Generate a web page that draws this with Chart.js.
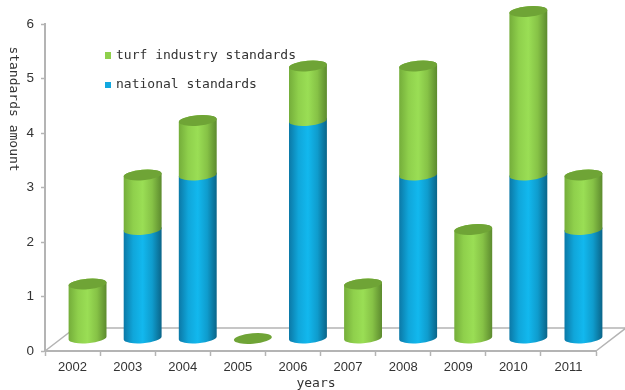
<!DOCTYPE html>
<html>
<head>
<meta charset="utf-8">
<style>
  html, body { margin: 0; padding: 0; background: #fff; overflow: hidden; }
  canvas { display: block; filter: blur(0.4px); }
</style>
<script src="https://cdn.jsdelivr.net/npm/chart.js@4"></script>
</head>
<body>
<canvas id="chart" width="625" height="390"></canvas>
<script>
const years = ['2002','2003','2004','2005','2006','2007','2008','2009','2010','2011'];
const nationalStandards = [0, 2, 3, 0, 4, 0, 3, 0, 3, 2];
const turfStandards = [1, 1, 1, 0, 1, 1, 2, 2, 3, 1];
const yTicks = [0, 1, 2, 3, 4, 5, 6];

const AXIS = '#b4b4b4';
const TEXT = '#333';
const MONO = '13px "DejaVu Sans Mono", monospace';
const DEPTH_X = 30, DEPTH_Y = 23;
const TILT = -0.08, RY = 5.2;

const sideColors = {
  green: ['#74ad3a', '#8fd04c', '#9ade55', '#86c246', '#5c8a2e'],
  blue: ['#0b78a6', '#10a6da', '#12b8ee', '#0f9ccd', '#0a6488']
};

function cylinder(ctx, cx, top, bottom, rx, stops){
  const g = ctx.createLinearGradient(cx - rx, 0, cx + rx, 0);
  stops.forEach((c, i)=> g.addColorStop(i / (stops.length - 1), c));
  ctx.beginPath();
  ctx.ellipse(cx, bottom, rx, RY, TILT, 0, Math.PI);
  ctx.ellipse(cx, top, rx, RY, TILT, Math.PI, Math.PI * 2);
  ctx.closePath();
  ctx.fillStyle = g;
  ctx.fill();
}

function cap(ctx, cx, y, rx){
  ctx.beginPath();
  ctx.ellipse(cx, y, rx, RY, TILT, 0, Math.PI * 2);
  ctx.fillStyle = '#6fa436';
  ctx.fill();
}

// floor of the fake 3d box, behind the bars
const floorPlugin = {
  id: 'floor',
  beforeDatasetsDraw(c){
    const {ctx, chartArea: a} = c;
    ctx.save();
    ctx.strokeStyle = AXIS;
    ctx.lineWidth = 1.5;
    ctx.beginPath();
    ctx.moveTo(a.left, a.bottom);
    ctx.lineTo(a.left + DEPTH_X, a.bottom - DEPTH_Y);
    ctx.lineTo(a.right + DEPTH_X, a.bottom - DEPTH_Y);
    ctx.lineTo(a.right, a.bottom);
    ctx.stroke();
    ctx.restore();
  }
};

// bars come from the chart's own elements, only the look is replaced
const cylinderPlugin = {
  id: 'cylinders',
  afterDatasetsDraw(c){
    const {ctx} = c;
    const blue = c.getDatasetMeta(0).data;
    const green = c.getDatasetMeta(1).data;
    ctx.save();
    years.forEach((y, i)=>{
      const dx = DEPTH_X / 2, dy = -12.5;
      const cx = blue[i].x + dx;
      const rx = blue[i].width / 2;
      if(nationalStandards[i] > 0){
        cylinder(ctx, cx, blue[i].y + dy, blue[i].base + dy, rx, sideColors.blue);
      }
      if(turfStandards[i] > 0){
        cylinder(ctx, cx, green[i].y + dy, green[i].base + dy, rx, sideColors.green);
      }
      cap(ctx, cx, green[i].y + dy, rx);
    });
    ctx.restore();
  }
};

// legend sits inside the plot and the y title reads downwards
const labelsPlugin = {
  id: 'labels',
  afterDraw(c){
    const {ctx} = c;
    ctx.save();
    ctx.font = MONO;
    ctx.textBaseline = 'middle';
    ctx.textAlign = 'left';

    ctx.fillStyle = '#8fd04c';
    ctx.fillRect(105, 52, 6, 7);
    ctx.fillStyle = '#12a8e0';
    ctx.fillRect(105, 82, 6, 6);
    ctx.fillStyle = TEXT;
    ctx.fillText(c.data.datasets[1].label, 116, 56);
    ctx.fillText(c.data.datasets[0].label, 116, 85);

    ctx.textAlign = 'center';
    ctx.fillText('years', 316, 384);

    ctx.translate(13, 109);
    ctx.rotate(Math.PI / 2);
    ctx.fillText('standards amount', 0, 0);
    ctx.restore();
  }
};

new Chart(document.getElementById('chart'), {
  type: 'bar',
  data: {
    labels: years,
    datasets: [
      { label: 'national standards', data: nationalStandards, backgroundColor: 'rgba(0,0,0,0)', stack: 's' },
      { label: 'turf industry standards', data: turfStandards, backgroundColor: 'rgba(0,0,0,0)', stack: 's' }
    ]
  },
  options: {
    responsive: false,
    animation: false,
    devicePixelRatio: 1,
    layout: { padding: { top: 24, right: 29, left: 0, bottom: 0 } },
    datasets: { bar: { categoryPercentage: 1, barPercentage: 0.69 } },
    plugins: { legend: { display: false }, tooltip: { enabled: false } },
    scales: {
      x: {
        stacked: true,
        afterFit(s){ s.height = 39; },
        grid: { drawOnChartArea: false, color: AXIS, tickLength: 5, tickWidth: 1.5 },
        border: { color: AXIS, width: 2 },
        ticks: { color: TEXT, font: { family: '"Liberation Sans", Arial, sans-serif', size: 13 }, padding: 4, maxRotation: 0, autoSkip: false }
      },
      y: {
        stacked: true,
        min: 0,
        max: 6,
        afterBuildTicks(s){ s.ticks = yTicks.map(v => ({ value: v })); },
        afterFit(s){ s.width = 45; },
        grid: { drawOnChartArea: false, color: AXIS, tickLength: 4, tickWidth: 1.5 },
        border: { color: AXIS, width: 2 },
        ticks: { color: TEXT, font: { family: '"Liberation Sans", Arial, sans-serif', size: 13.5 }, padding: 7, autoSkip: false }
      }
    }
  },
  plugins: [floorPlugin, cylinderPlugin, labelsPlugin]
});
</script>
</body>
</html>
